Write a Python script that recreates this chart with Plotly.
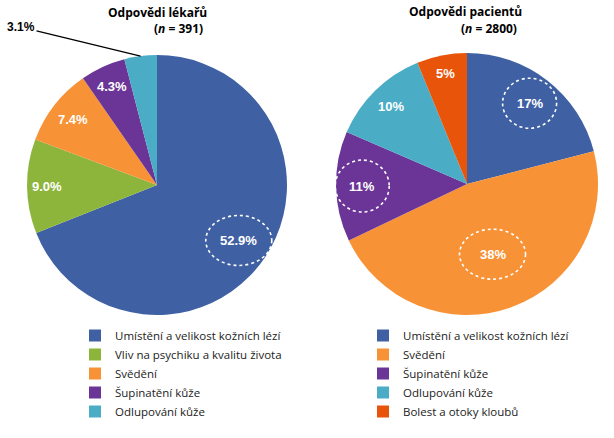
import math
import plotly.graph_objects as go

W, H = 614, 438

# ---- data ----
cats_left = ["Umístění a velikost kožních lézí", "Vliv na psychiku a kvalitu života",
             "Svědění", "Šupinatění kůže", "Odlupování kůže"]
vals_left = [52.9, 9.0, 7.4, 4.3, 3.1]
text_left = ["52.9%", "9.0%", "7.4%", "4.3%", "3.1%"]

cats_right = ["Umístění a velikost kožních lézí", "Svědění", "Šupinatění kůže",
              "Odlupování kůže", "Bolest a otoky kloubů"]
vals_right = [17, 38, 11, 10, 5]
text_right = ["17%", "38%", "11%", "10%", "5%"]

title_left = "Odpovědi lékařů"
n_left = "(<i>n</i> = 391)"
title_right = "Odpovědi pacientů"
n_right = "(<i>n</i> = 2800)"

# ---- styles ----
colors_left = ["#3F61A4", "#8DB53C", "#F79236", "#6B3597", "#4BACC6"]
colors_right = ["#3F61A4", "#F79236", "#6B3597", "#4BACC6", "#E9540B"]
rfrac_left = [0.76, 0.85, 0.82, 0.83, None]   # None -> outside label with leader
rfrac_right = [0.78, 0.57, 0.80, 0.83, 0.86]
ring_left = [(33, 25), None, None, None, None]
ring_right = [(27, 25), (33, 25), (27, 26), None, None]

LEFT_C, LEFT_R = (157, 185), 130
RIGHT_C, RIGHT_R = (467, 184), 131

def px2paper(x, y):
    return x / W, 1 - y / H

def domain(c, r):
    return dict(x=[(c[0] - r) / W, (c[0] + r) / W],
                y=[1 - (c[1] + r) / H, 1 - (c[1] - r) / H])

LABEL_FONT = dict(family="Liberation Sans, Arial", size=13, color="white")
TITLE_FONT = dict(family="Open Sans", size=12, color="black")
LEG_FONT = dict(family="Open Sans", size=11.5, color="#222")

# zero-width space keeps the right legend entries separate from the left ones
ZW = "\u200b"

fig = go.Figure()
fig.add_trace(go.Pie(labels=cats_left, values=vals_left, sort=False,
                     direction="clockwise", rotation=0,
                     marker=dict(colors=colors_left), textinfo="none",
                     domain=domain(LEFT_C, LEFT_R), legend="legend",
                     hoverinfo="label+percent"))
fig.add_trace(go.Pie(labels=[c + ZW for c in cats_right], values=vals_right, sort=False,
                     direction="clockwise", rotation=0,
                     marker=dict(colors=colors_right), textinfo="none",
                     domain=domain(RIGHT_C, RIGHT_R), legend="legend2",
                     hoverinfo="label+percent"))

annotations = []
shapes = []

def add_labels(vals, texts, rfracs, rings, c, r):
    total = sum(vals)
    cum = 0.0
    for v, t, rf, ring in zip(vals, texts, rfracs, rings):
        mid = (cum + v / 2) / total * 2 * math.pi
        cum += v
        sx, sy = math.sin(mid), -math.cos(mid)
        if rf is None:
            ex, ey = c[0] + sx * r, c[1] + sy * r
            px, py = px2paper(ex, ey)
            annotations.append(dict(x=px, y=py, xref="paper", yref="paper",
                                    text="<b>%s</b>" % t, showarrow=True,
                                    arrowhead=0, arrowwidth=1.3, arrowcolor="black",
                                    ax=21 - ex, ay=27 - ey, standoff=0,
                                    xanchor="center", yanchor="middle",
                                    font=dict(family="Liberation Sans, Arial", size=12, color="black")))
            continue
        lx, ly = c[0] + sx * r * rf, c[1] + sy * r * rf
        px, py = px2paper(lx, ly)
        annotations.append(dict(x=px, y=py, xref="paper", yref="paper",
                                text="<b>%s</b>" % t, showarrow=False,
                                xanchor="center", yanchor="middle",
                                font=LABEL_FONT))
        if ring:
            rx, ry = ring
            x0, y1 = px2paper(lx - rx, ly - ry)
            x1, y0 = px2paper(lx + rx, ly + ry)
            shapes.append(dict(type="circle", xref="paper", yref="paper",
                               x0=x0, x1=x1, y0=y0, y1=y1,
                               line=dict(color="white", width=1.6, dash="dot")))

add_labels(vals_left, text_left, rfrac_left, ring_left, LEFT_C, LEFT_R)
add_labels(vals_right, text_right, rfrac_right, ring_right, RIGHT_C, RIGHT_R)

for txt, (x, y) in [("<b>%s</b>" % title_left, (157, 12)), ("<b>%s</b>" % n_left, (178, 28)),
                    ("<b>%s</b>" % title_right, (465, 11)), ("<b>%s</b>" % n_right, (489, 28))]:
    px, py = px2paper(x, y)
    annotations.append(dict(x=px, y=py, xref="paper", yref="paper", text=txt,
                            xanchor="center", yanchor="middle",
                            showarrow=False, font=TITLE_FONT))

fig.update_layout(
    width=W, height=H,
    margin=dict(l=0, r=0, t=0, b=0),
    paper_bgcolor="white", plot_bgcolor="white",
    annotations=annotations, shapes=shapes,
    legend=dict(x=75 / W, y=1 - 321 / H, xanchor="left", yanchor="top",
                font=LEG_FONT, bgcolor="rgba(0,0,0,0)", tracegroupgap=0,
                itemclick=False, itemdoubleclick=False),
    legend2=dict(x=363 / W, y=1 - 321 / H, xanchor="left", yanchor="top",
                 font=LEG_FONT, bgcolor="rgba(0,0,0,0)", tracegroupgap=0,
                 itemclick=False, itemdoubleclick=False),
    showlegend=True,
)

fig.write_html("out.html", config={"displayModeBar": False},
               post_script="document.body.style.margin='0';")
